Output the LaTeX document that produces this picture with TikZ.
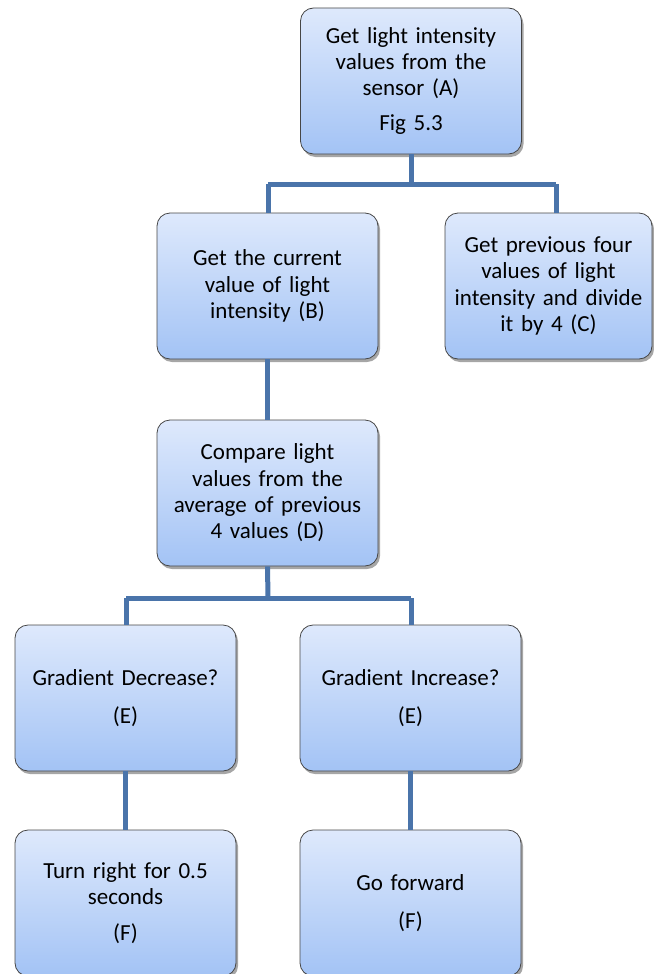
\documentclass[tikz,border=0pt]{standalone}
\usepackage{fontspec}
\setmainfont{Carlito}
\usetikzlibrary{shadows}
\definecolor{linkblue}{RGB}{74,116,170}
\definecolor{boxtop}{RGB}{222,233,252}
\definecolor{boxbot}{RGB}{163,195,245}
\definecolor{boxedge}{RGB}{70,70,70}
\tikzset{
  flowbox/.style={draw=boxedge, line width=0.8pt, rounded corners=13pt,
    top color=boxtop, bottom color=boxbot,
    minimum width=221pt, minimum height=146pt, inner sep=0pt,
    align=center, text width=215pt,
    font=\fontsize{23}{26.3}\selectfont,
    drop shadow={shadow xshift=2pt, shadow yshift=-3pt, opacity=0.35, fill=black}},
  link/.style={draw=linkblue, line width=5pt}
}
\begin{document}
\begin{tikzpicture}[x=1pt,y=-1pt]
\useasboundingbox (0,0) rectangle (653,974);
\node[flowbox] (A) at (411,81) {Get light intensity\\ values from the\\ sensor (A)\\[9pt] Fig 5.3};
\node[flowbox] (B) at (267.5,286) {Get the current\\ value of light\\ intensity (B)};
\node[flowbox, minimum width=207pt, text width=205pt] (C) at (548.5,286) {Get previous four\\ values of light\\ intensity and divide\\ it by 4 (C)};
\node[flowbox] (D) at (267.5,493) {Compare light\\ values from the\\ average of previous\\ 4 values (D)};
\node[flowbox] (E1) at (125.5,698) {Gradient Decrease?\\[11pt] (E)};
\node[flowbox] (E2) at (410.5,698) {Gradient Increase?\\[11pt] (E)};
\node[flowbox] (F1) at (125.5,903) {Turn right for 0.5\\ seconds\\[10pt] (F)};
\node[flowbox] (F2) at (410.5,903) {Go forward\\[11pt] (F)};
\coordinate (jA) at (411,184);
\coordinate (jD) at (268,598);
\begin{scope}[on background layer/.try]
\draw[link] (A.south) -- (jA);
\draw[link] (268,184) -- (556,184);
\draw[link] (268,184) -- (268,213);
\draw[link] (556,184) -- (556,213);
\draw[link] (B.south) -- (D.north);
\draw[link] (D.south) -- (jD);
\draw[link] (126,598) -- (411,598);
\draw[link] (126,598) -- (126,625);
\draw[link] (411,598) -- (411,625);
\draw[link] (E1.south) -- (F1.north);
\draw[link] (E2.south) -- (F2.north);
\end{scope}
\end{tikzpicture}
\end{document}
